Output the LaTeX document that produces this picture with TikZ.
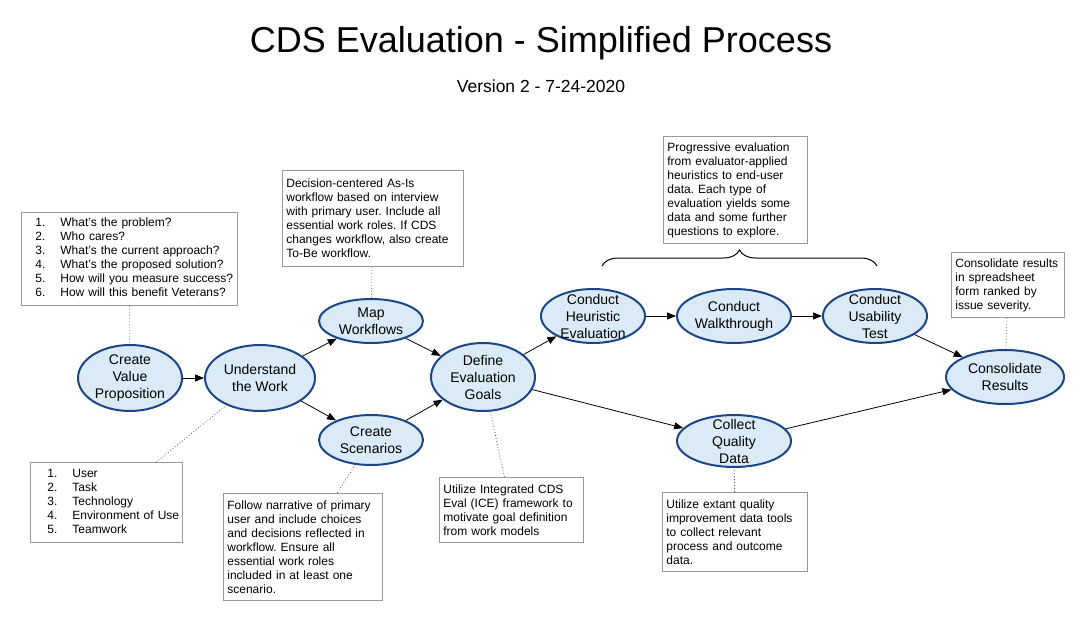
\documentclass[tikz,border=0pt]{standalone}
\usepackage{fontspec}
\setmainfont{Liberation Sans}
\usepackage{tikz}
\usetikzlibrary{shapes.geometric, arrows.meta, positioning, decorations.pathreplacing}
\definecolor{phasefill}{HTML}{DAEBF7}
\definecolor{phaseline}{HTML}{1C4587}
\definecolor{notegray}{HTML}{9A9A9A}
\frenchspacing

\begin{document}
\begin{tikzpicture}[x=1pt, y=-1pt,
  phase/.style={ellipse, draw=phaseline, fill=phasefill, line width=2pt, inner sep=0pt},
  ptext/.style={align=center, font=\fontsize{14}{17}\selectfont},
  note/.style={draw=notegray, line width=0.8pt, anchor=north west, align=left,
               inner xsep=4pt, inner ysep=0pt, font=\fontsize{12}{14}\selectfont},
  arr/.style={-{Triangle[length=9pt,width=7pt]}, line width=0.8pt},
  link/.style={gray!70!black, line width=0.8pt, dash pattern=on 0.8pt off 2.2pt},
]
  \useasboundingbox (0,0) rectangle (1084,621);

  \node[font=\fontsize{36}{40}\selectfont] (title) at (541,43) {CDS Evaluation - Simplified Process};
  \node[font=\fontsize{17.5}{20}\selectfont] (version) at (541,86) {Version 2 - 7-24-2020};

  % Process phases
  \node[phase, minimum width=104pt, minimum height=66pt, label={[ptext]center:Create\\Value\\Proposition}] (cvp) at (130,378) {};
  \node[phase, minimum width=110pt, minimum height=66pt, label={[ptext]center:Understand\\the Work}] (utw) at (260,378) {};
  \node[phase, minimum width=104pt, minimum height=44pt, label={[ptext]center:Map\\Workflows}] (map) at (371,321) {};
  \node[phase, minimum width=104pt, minimum height=50pt, label={[ptext]center:Create\\Scenarios}] (scen) at (371,440) {};
  \node[phase, minimum width=104pt, minimum height=68pt, label={[ptext]center:Define\\Evaluation\\Goals}] (goals) at (483,377) {};
  \node[phase, minimum width=104pt, minimum height=54pt, label={[ptext]center:Conduct\\Heuristic\\Evaluation}] (heur) at (593,316) {};
  \node[phase, minimum width=114pt, minimum height=54pt, label={[ptext]center:Conduct\\Walkthrough}] (walk) at (734,316) {};
  \node[phase, minimum width=104pt, minimum height=54pt, label={[ptext]center:Conduct\\Usability\\Test}] (usab) at (875,316) {};
  \node[phase, minimum width=114pt, minimum height=52pt, label={[ptext]center:Collect\\Quality\\Data}] (coll) at (734,441) {};
  \node[phase, minimum width=118pt, minimum height=54pt, label={[ptext]center:Consolidate\\Results}] (cons) at (1005,377) {};

  \foreach \i/\j in {cvp/utw, utw/map, utw/scen, map/goals, scen/goals, goals/heur,
                     goals/coll, heur/walk, walk/usab, usab/cons, coll/cons} {
    \draw[arr] (\i) -- (\j);
  }

  % Notes
  \node[note, text width=208pt, minimum height=93pt] (qbox) at (21,212) {%
    \begin{tabular}{@{\hspace{10pt}}p{25pt}@{}l@{}}
    1. & What's the problem?\\
    2. & Who cares?\\
    3. & What's the current approach?\\
    4. & What's the proposed solution?\\
    5. & How will you measure success?\\
    6. & How will this benefit Veterans?
    \end{tabular}};
  \node[note, text width=144pt, minimum height=80pt] (ubox) at (30,462) {%
    \begin{tabular}{@{\hspace{13pt}}p{25pt}@{}l@{}}
    1. & User\\
    2. & Task\\
    3. & Technology\\
    4. & Environment of Use\\
    5. & Teamwork
    \end{tabular}};
  \node[note, text width=173pt, minimum height=96pt] (mapbox) at (282,170)
    {Decision-centered As-Is\\workflow based on interview\\with primary user. Include all\\essential work roles. If CDS\\changes workflow, also create\\To-Be workflow.};
  \node[note, text width=151pt, minimum height=107pt] (scenbox) at (223,493)
    {Follow narrative of primary\\user and include choices\\and decisions reflected in\\workflow. Ensure all\\essential work roles\\included in at least one\\scenario.};
  \node[note, text width=136pt, minimum height=65pt] (icebox) at (439,477)
    {Utilize Integrated CDS\\Eval (ICE) framework to\\motivate goal definition\\from work models};
  \node[note, text width=137pt, minimum height=79pt] (qualbox) at (662,492)
    {Utilize extant quality\\improvement data tools\\to collect relevant\\process and outcome\\data.};
  \node[note, text width=136pt, minimum height=107pt] (progbox) at (663,136)
    {Progressive evaluation\\from evaluator-applied\\heuristics to end-user\\data. Each type of\\evaluation yields some\\data and some further\\questions to explore.};
  \node[note, text width=105pt, minimum height=65pt] (consbox) at (951,252)
    {Consolidate results\\in spreadsheet\\form ranked by\\issue severity.};

  \foreach \i/\j in {qbox/cvp, ubox/utw, mapbox/map, scenbox/scen, icebox/goals,
                     qualbox/coll, consbox/cons} {
    \draw[link] (\i) -- (\j);
  }

  % Brace over the evaluation steps
  \coordinate (bl) at (602,266);
  \coordinate (br) at (877,266);
  \draw[line width=1pt, decorate, decoration={brace, amplitude=16pt}] (bl) -- (br);
\end{tikzpicture}
\end{document}
